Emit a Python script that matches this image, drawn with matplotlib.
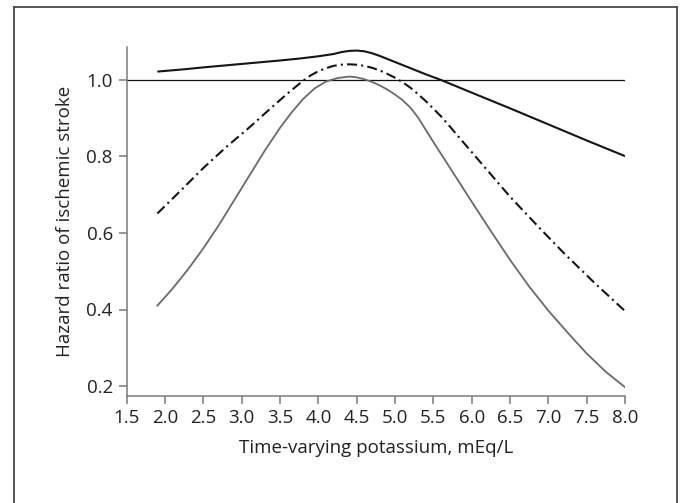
import matplotlib
matplotlib.use("Agg")
import matplotlib.pyplot as plt
from matplotlib.lines import Line2D

# ---- data ----
x_solid = [1.9, 2.25, 2.5, 3.0, 3.5, 3.75, 4.0, 4.1, 4.2, 4.3, 4.4, 4.5, 4.6, 4.7, 4.8, 4.9, 5.0, 5.2, 5.4, 5.6, 6.0, 6.5, 7.0, 7.5, 8.0]
y_solid = [1.022, 1.028, 1.033, 1.042, 1.051, 1.056, 1.062, 1.065, 1.068, 1.073, 1.076, 1.077, 1.075, 1.070, 1.063, 1.055, 1.047, 1.031, 1.015, 1.0, 0.967, 0.926, 0.884, 0.842, 0.801]

x_dashdot = [1.9, 2.2, 2.5, 2.8, 3.1, 3.4, 3.6, 3.8, 3.9, 4.0, 4.1, 4.2, 4.3, 4.4, 4.5, 4.6, 4.7, 4.8, 4.9, 5.0, 5.1, 5.2, 5.3, 5.4, 5.5, 5.6, 5.7, 5.9, 6.2, 6.5, 6.9, 7.2, 7.6, 8.0]
y_dashdot = [0.651, 0.71, 0.77, 0.825, 0.876, 0.93, 0.965, 0.998, 1.012, 1.023, 1.031, 1.037, 1.040, 1.041, 1.040, 1.037, 1.032, 1.025, 1.016, 1.006, 0.994, 0.98, 0.963, 0.945, 0.925, 0.905, 0.882, 0.835, 0.765, 0.695, 0.61, 0.548, 0.47, 0.396]

x_gray = [1.9, 2.1, 2.3, 2.5, 2.7, 2.9, 3.1, 3.3, 3.5, 3.65, 3.8, 3.95, 4.1, 4.25, 4.4, 4.5, 4.6, 4.7, 4.8, 4.9, 5.0, 5.1, 5.2, 5.3, 5.4, 5.5, 5.75, 6.0, 6.25, 6.5, 6.75, 7.0, 7.25, 7.5, 7.75, 8.0]
y_gray = [0.41, 0.455, 0.505, 0.56, 0.62, 0.685, 0.75, 0.815, 0.875, 0.915, 0.95, 0.978, 0.996, 1.005, 1.009, 1.007, 1.002, 0.995, 0.986, 0.975, 0.962, 0.947, 0.928, 0.902, 0.87, 0.838, 0.76, 0.682, 0.605, 0.53, 0.46, 0.397, 0.34, 0.285, 0.237, 0.197]

xticks = [1.5, 2.0, 2.5, 3.0, 3.5, 4.0, 4.5, 5.0, 5.5, 6.0, 6.5, 7.0, 7.5, 8.0]
yticks = [0.2, 0.4, 0.6, 0.8, 1.0]
reference_hr = 1.0

xlabel = "Time-varying potassium, mEq/L"
ylabel = "Hazard ratio of ischemic stroke"

plt.rcParams['font.family'] = ['Open Sans', 'DejaVu Sans']

fig = plt.figure(figsize=(6.83, 5.03), dpi=100)
ax = fig.add_axes([126.7/683, 1-396/503, (625-126.7)/683, (396-47)/503])

spine_col = '#7a7a7a'
ax.axhline(reference_hr, color='#111111', lw=0.9, zorder=2)
ax.plot(x_solid, y_solid, color='#151515', lw=1.5, solid_capstyle='butt', zorder=3)
ax.plot(x_dashdot, y_dashdot, color='#151515', lw=1.5, linestyle=(0, (4.8, 2.0, 1.0, 2.0)), zorder=3)
ax.plot(x_gray, y_gray, color='#6a6a6a', lw=1.3, zorder=3)

ax.set_xlim(1.5, 8.0)
ax.set_ylim(0.2 - 10/382.5, 1.0 + 33/382.5)
ax.set_xticks(xticks)
ax.set_xticklabels([f"{v:.1f}" for v in xticks])
ax.set_yticks(yticks)
ax.set_yticklabels([f"{v:.1f}" for v in yticks])

for s in ['top', 'right']:
    ax.spines[s].set_visible(False)
for s in ['left', 'bottom']:
    ax.spines[s].set_color(spine_col)
    ax.spines[s].set_linewidth(1.1)
ax.tick_params(axis='both', direction='out', length=5.5, width=1.1, color=spine_col,
               labelsize=13.5, labelcolor='#222222', pad=4.5)
ax.tick_params(axis='x', pad=3.8)

ax.set_xlabel(xlabel, fontsize=13.5, color='#222222')
ax.set_ylabel(ylabel, fontsize=13.5, color='#222222')
ax.xaxis.label.set_va('center')
ax.yaxis.label.set_va('center')
ax.xaxis.set_label_coords(0.5, -0.150)
ax.yaxis.set_label_coords(-0.124, 0.5)

# outer frame (open at the bottom)
fc = '#4a4a4a'
L, R, T = 14/683, 677/683, 1 - 7/503
fig.add_artist(Line2D([L, L], [-0.02, T], transform=fig.transFigure, color=fc, lw=1.3))
fig.add_artist(Line2D([L, R], [T, T], transform=fig.transFigure, color=fc, lw=1.3))
fig.add_artist(Line2D([R, R], [T, -0.02], transform=fig.transFigure, color=fc, lw=1.3))

fig.savefig("out.png", dpi=100)
